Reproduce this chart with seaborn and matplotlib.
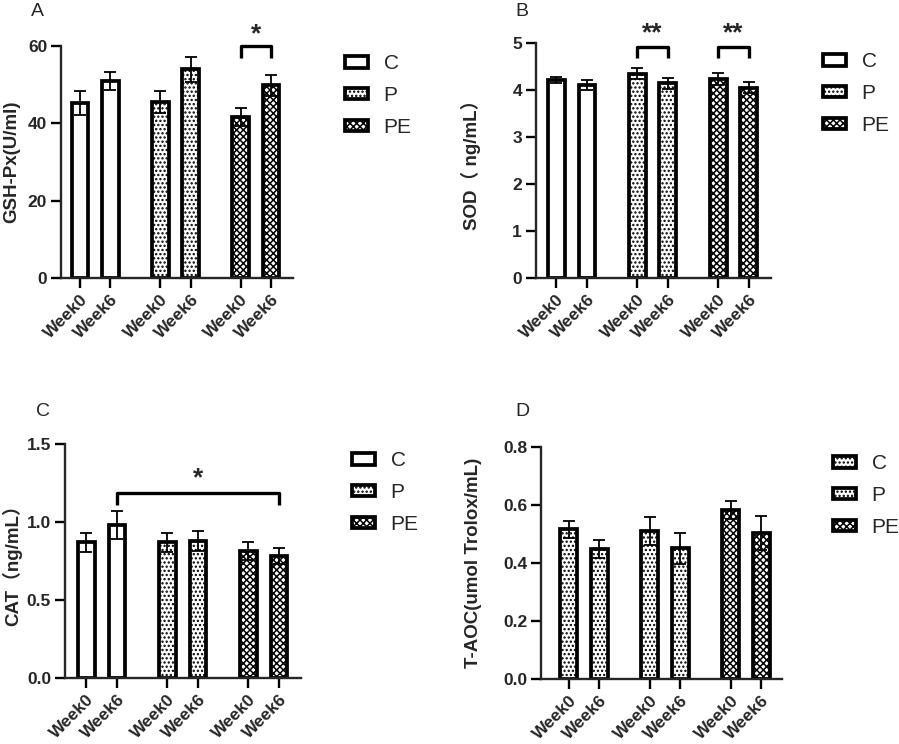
import numpy as np
import pandas as pd
import matplotlib
matplotlib.use('Agg')
import matplotlib.pyplot as plt
from matplotlib.patches import Patch
import seaborn as sns

# data (mean, error)
groups = ['C', 'C', 'P', 'P', 'PE', 'PE']
weeks = ['Week0', 'Week6', 'Week0', 'Week6', 'Week0', 'Week6']
group_order = ['C', 'P', 'PE']

gsh_mean = [45.3, 50.9, 45.6, 54.0, 41.7, 49.9]
gsh_err = [3.2, 2.3, 2.9, 3.2, 2.3, 2.7]
sod_mean = [4.21, 4.10, 4.35, 4.14, 4.24, 4.05]
sod_err = [0.07, 0.11, 0.12, 0.11, 0.13, 0.12]
cat_mean = [0.87, 0.98, 0.87, 0.88, 0.815, 0.78]
cat_err = [0.06, 0.088, 0.06, 0.064, 0.06, 0.051]
taoc_mean = [0.516, 0.449, 0.510, 0.450, 0.583, 0.503]
taoc_err = [0.030, 0.031, 0.047, 0.055, 0.032, 0.058]

sns.set_theme(style='ticks')
plt.rcParams['font.family'] = ['Liberation Sans', 'Noto Sans CJK SC', 'DejaVu Sans']
plt.rcParams['hatch.linewidth'] = 1.1
plt.rcParams['axes.linewidth'] = 1.7

DOTS = '....'
CHECK = 'xxxxx'

GAP = 2.65
pos = [group_order.index(g) * GAP + (0 if w == 'Week0' else 1) for g, w in zip(groups, weeks)]

fig = plt.figure(figsize=(8.99, 7.44), dpi=100)

panels = [
    # letter, mean, err, ylabel, ticks, fmt, axes rect, hatches, legend xy, label x, xlim
    ('A', gsh_mean, gsh_err, 'GSH-Px(U/ml)', [0, 20, 40, 60], '{:.0f}',
     [0.0679, 0.6263, 0.258, 0.3118], {'C': '', 'P': DOTS, 'PE': CHECK},
     (345, 54), -0.177, (-0.63, 7.03)),
    ('B', sod_mean, sod_err, 'SOD（ ng/mL）', [0, 1, 2, 3, 4, 5], '{:.0f}',
     [0.5962, 0.6263, 0.2614, 0.3159], {'C': '', 'P': DOTS, 'PE': CHECK},
     (823, 52), -0.235, (-0.67, 7.03)),
    ('C', cat_mean, cat_err, 'CAT（ng/mL）', [0, 0.5, 1.0, 1.5], '{:.1f}',
     [0.0723, 0.0887, 0.2625, 0.3145], {'C': '', 'P': DOTS, 'PE': CHECK},
     (352, 451), -0.182, (-0.7, 7.02)),
    ('D', taoc_mean, taoc_err, 'T-AOC(umol Trolox/mL)', [0, 0.2, 0.4, 0.6, 0.8], '{:.1f}',
     [0.6018, 0.0874, 0.268, 0.3118], {'C': DOTS, 'P': DOTS, 'PE': CHECK},
     (833, 454), -0.245, (-0.91, 6.98)),
]

axes = {}
for letter, mean, err, ylab, yt, fmt, rect, hatches, leg_xy, lab_x, xl in panels:
    ax = fig.add_axes(rect)
    axes[letter] = ax
    df = pd.DataFrame({'pos': pos, 'value': mean, 'group': groups})
    sns.barplot(data=df, x='pos', y='value', hue='group', hue_order=group_order,
                native_scale=True, dodge=False, width=0.55, errorbar=None,
                palette={'C': 'white', 'P': 'white', 'PE': 'white'}, saturation=1,
                edgecolor='black', linewidth=2.7, legend=False, ax=ax)
    for p in ax.patches:
        xc = p.get_x() + p.get_width() / 2
        i = int(np.argmin([abs(xc - q) for q in pos]))
        p.set_hatch(hatches[groups[i]])
        p.set_zorder(2)
    ax.errorbar(pos, mean, yerr=err, fmt='none', ecolor='black', elinewidth=1.3,
                capsize=4.5, capthick=1.3, zorder=5)

    ax.set_xlim(*xl)
    ax.set_ylim(yt[0], yt[-1])
    ax.set_yticks(yt)
    ax.set_yticklabels([fmt.format(v) for v in yt], fontsize=12.5, fontweight='bold')
    ax.set_xticks(pos)
    ax.set_xticklabels(weeks, rotation=45, ha='right', rotation_mode='anchor',
                       fontsize=12.5, fontweight='bold')
    ax.tick_params(axis='both', length=7, width=1.7, color='black', pad=3)
    ax.set_xlabel('')
    ax.set_ylabel(ylab, fontsize=13.5, fontweight='bold')
    ax.yaxis.set_label_coords(lab_x, 0.5)
    sns.despine(ax=ax)

    handles = [Patch(facecolor='white', edgecolor='black', linewidth=2.7, hatch=hatches[g])
               for g in group_order]
    fig.legend(handles, group_order, loc='upper left',
               bbox_to_anchor=(leg_xy[0] / 899, 1 - leg_xy[1] / 744),
               frameon=False, fontsize=15, handlelength=1.1, handleheight=0.5,
               handletextpad=0.75, labelspacing=0.62, borderpad=0, borderaxespad=0)

# panel letters
for letter, (px, py) in {'A': (37, 12), 'B': (522, 12), 'C': (43, 412), 'D': (522, 412)}.items():
    fig.text(px / 899, 1 - py / 744, letter, fontsize=14, ha='center', va='center')


def bracket(ax, x1, x2, y, drop, ytxt, label):
    ax.plot([x1, x1, x2, x2], [y - drop, y, y, y - drop], color='black', lw=2.4,
            clip_on=False, zorder=6, solid_capstyle='butt')
    ax.text((x1 + x2) / 2, ytxt, label, ha='center', va='center', fontsize=19,
            fontweight='bold', clip_on=False)


bracket(axes['A'], pos[4], pos[5], 60, 3.0, 63.0, '*')
bracket(axes['B'], pos[2], pos[3], 4.91, 0.23, 5.2, '**')
bracket(axes['B'], pos[4], pos[5], 4.91, 0.23, 5.2, '**')
bracket(axes['C'], pos[1], pos[5], 1.188, 0.08, 1.28, '*')

fig.savefig('out.png', dpi=100)
